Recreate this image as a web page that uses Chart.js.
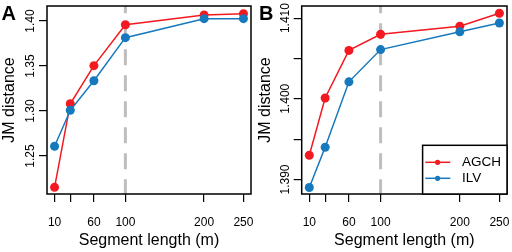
<!DOCTYPE html>
<html>
<head>
<meta charset="utf-8">
<script src="https://cdn.jsdelivr.net/npm/chart.js@4.4.1/dist/chart.umd.min.js"></script>
<style>
  body { margin: 0; background: #fff; }
  #wrap { position: relative; width: 512px; height: 252px; }
  canvas { position: absolute; top: 0; }
</style>
</head>
<body>
<div id="wrap">
  <canvas id="chartA" width="256" height="252" style="left:0"></canvas>
  <canvas id="chartB" width="256" height="252" style="left:256px"></canvas>
</div>
<script>
// segment lengths (m)
const segLength = [10, 30, 60, 100, 200, 250];
const xTicks = [10, 30, 60, 100, 200, 250];
const xTickLabels = ['10', '', '60', '100', '200', '250'];
const cutoff = 100;

// panel A
const agchA = [1.2152, 1.3081, 1.3504, 1.3959, 1.4067, 1.4081];
const ilvA = [1.2608, 1.3008, 1.3337, 1.3815, 1.4026, 1.4026];
const yTicksA = [1.25, 1.30, 1.35, 1.40];
const yTickLabelsA = ['1.25', '1.30', '1.35', '1.40'];

// panel B
const agchB = [1.3930, 1.4001, 1.4060, 1.4080, 1.4090, 1.4106];
const ilvB = [1.3890, 1.3940, 1.4021, 1.4061, 1.4083, 1.4094];
const yTicksB = [1.390, 1.395, 1.400, 1.405, 1.410];
const yTickLabelsB = ['1.390', '', '1.400', '', '1.410'];

const red = '#f21a20';
const blue = '#1678bd';

Chart.defaults.font.family = '"Liberation Sans", Arial, sans-serif';
Chart.defaults.color = '#000';

// frame, panel tag, dashed cutoff line and boxed legend
const panelDecor = {
  id: 'panelDecor',
  beforeDatasetsDraw(chart) {
    const {ctx, chartArea: a, scales: {x}} = chart;
    const px = x.getPixelForValue(cutoff);
    ctx.save();
    ctx.strokeStyle = '#bebebe';
    ctx.lineWidth = 3;
    ctx.setLineDash([16, 10]);
    ctx.lineDashOffset = 8.7;
    ctx.beginPath();
    ctx.moveTo(px, a.top);
    ctx.lineTo(px, a.bottom);
    ctx.stroke();
    ctx.restore();
  },
  afterDraw(chart, args, opts) {
    const {ctx, chartArea: a} = chart;
    ctx.save();
    ctx.strokeStyle = '#000';
    ctx.lineWidth = 1.5;
    ctx.strokeRect(a.left, a.top, a.right - a.left, a.bottom - a.top);

    ctx.fillStyle = '#000';
    ctx.font = 'bold 20px "Liberation Sans", Arial, sans-serif';
    ctx.textBaseline = 'alphabetic';
    ctx.fillText(opts.tag, opts.tagX, 19.6);

    if (opts.legend) {
      const w = 84.4, h = 48.7;
      const lx = a.right - w, ly = a.bottom - h;
      ctx.fillStyle = '#fff';
      ctx.fillRect(lx, ly, w, h);
      ctx.strokeRect(lx, ly, w, h);
      ctx.font = '13.5px "Liberation Sans", Arial, sans-serif';
      ctx.textBaseline = 'middle';
      chart.data.datasets.forEach((ds, i) => {
        const cy = ly + 17 + i * 16;
        ctx.strokeStyle = ds.borderColor;
        ctx.lineWidth = 1.5;
        ctx.beginPath();
        ctx.moveTo(lx + 2.7, cy);
        ctx.lineTo(lx + 27.7, cy);
        ctx.stroke();
        ctx.fillStyle = ds.borderColor;
        ctx.beginPath();
        ctx.arc(lx + 15, cy, 2.6, 0, Math.PI * 2);
        ctx.fill();
        ctx.fillStyle = '#000';
        ctx.fillText(ds.label, lx + 39.4, cy);
      });
    }
    ctx.restore();
  }
};

function makePanel(id, agch, ilv, yMin, yMax, yTicks, yLabels, yWidth, yPad, tag, tagX, legend) {
  return new Chart(document.getElementById(id), {
    type: 'line',
    data: {
      datasets: [
        {
          label: 'AGCH',
          data: segLength.map((s, i) => ({x: s, y: agch[i]})),
          borderColor: red,
          backgroundColor: red,
          pointBackgroundColor: red,
          borderWidth: 1.5,
          pointRadius: 4.5,
          pointBorderWidth: 0,
          order: 1
        },
        {
          label: 'ILV',
          data: segLength.map((s, i) => ({x: s, y: ilv[i]})),
          borderColor: blue,
          backgroundColor: blue,
          pointBackgroundColor: blue,
          borderWidth: 1.5,
          pointRadius: 4.5,
          pointBorderWidth: 0,
          order: 0
        }
      ]
    },
    options: {
      responsive: false,
      animation: false,
      layout: {padding: {left: 0, top: 6, right: 5, bottom: 0}},
      scales: {
        x: {
          type: 'linear',
          min: 0.4,
          max: 259.6,
          afterBuildTicks: s => { s.ticks = xTicks.map(v => ({value: v})); },
          afterFit: s => { s.height = 58; s.paddingLeft = 0; s.paddingRight = 0; },
          ticks: {
            autoSkip: false,
            maxRotation: 0,
            padding: 13.5,
            font: {size: 12},
            callback: (v, i) => xTickLabels[i]
          },
          grid: {drawOnChartArea: false, tickLength: 8, color: '#000', lineWidth: 1.2},
          border: {display: false},
          title: {
            display: true,
            text: 'Segment length (m)',
            font: {size: 16},
            padding: {top: 0, bottom: 1.9}
          }
        },
        y: {
          min: yMin,
          max: yMax,
          afterBuildTicks: s => { s.ticks = yTicks.map(v => ({value: v})); },
          afterFit: s => { s.width = yWidth; s.paddingTop = 0; s.paddingBottom = 0; },
          ticks: {
            autoSkip: false,
            minRotation: 90,
            maxRotation: 90,
            crossAlign: 'center',
            padding: yPad,
            font: {size: 12},
            callback: (v, i) => yLabels[i]
          },
          grid: {drawOnChartArea: false, tickLength: 8, color: '#000', lineWidth: 1.2},
          border: {display: false},
          title: {
            display: true,
            text: 'JM distance',
            font: {size: 16},
            padding: {top: 0, bottom: 0}
          }
        }
      },
      plugins: {
        legend: {display: false},
        tooltip: {enabled: false},
        panelDecor: {tag: tag, tagX: tagX, legend: legend}
      }
    },
    plugins: [panelDecor]
  });
}

makePanel('chartA', agchA, ilvA, 1.2078, 1.4167, yTicksA, yTickLabelsA, 47, -3.2, 'A', 1.5, false);
makePanel('chartB', agchB, ilvB, 1.3882, 1.4115, yTicksB, yTickLabelsB, 45.7, -7.3, 'B', 3, true);
</script>
</body>
</html>
